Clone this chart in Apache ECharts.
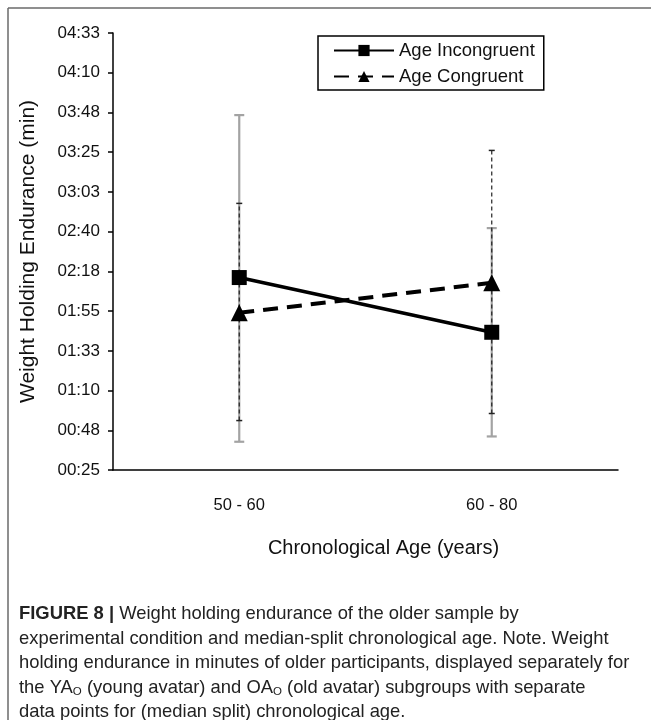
<!DOCTYPE html>
<html><head><meta charset="utf-8">
<script src="https://cdn.jsdelivr.net/npm/echarts@6/dist/echarts.min.js"></script>
<style>html,body{margin:0;padding:0;background:#fff}#c{width:651px;height:720px}</style>
</head><body><div id="c"></div>
<script>
// ---- data (values in seconds) ----
const categories = ['50 - 60', '60 - 80'];
const seriesNames = ['Age Incongruent', 'Age Congruent'];
const incongruentMean = [134, 103];
const congruentMean = [114, 131];
const incongruentLow = [41, 44];
const incongruentHigh = [226, 162];
const congruentLow = [53, 57];
const congruentHigh = [176, 206];
const yMin = 25, yStep = 22.5, yMax = 272.5;

function fmt(v) {
  const s = Math.round(v);
  const m = Math.floor(s / 60), r = s % 60;
  return String(m).padStart(2, '0') + ':' + String(r).padStart(2, '0');
}

function errorBar(lineStyle, capStyle, capHalf) {
  return function (params, api) {
    const x = api.value(0);
    const lo = api.coord([x, api.value(1)]);
    const hi = api.coord([x, api.value(2)]);
    return { type: 'group', children: [
      { type: 'line', shape: { x1: lo[0], y1: lo[1], x2: hi[0], y2: hi[1] }, style: lineStyle },
      { type: 'line', shape: { x1: hi[0] - capHalf, y1: hi[1], x2: hi[0] + capHalf, y2: hi[1] }, style: capStyle },
      { type: 'line', shape: { x1: lo[0] - capHalf, y1: lo[1], x2: lo[0] + capHalf, y2: lo[1] }, style: capStyle }
    ]};
  };
}

const chart = echarts.init(document.getElementById('c'), null, { renderer: 'canvas' });
const FONT = 'Liberation Sans, Arial, Helvetica, sans-serif';
chart.setOption({
  animation: false,
  backgroundColor: '#fff',
  textStyle: { fontFamily: FONT },
  grid: { left: 113, top: 33, right: 33, bottom: 250, containLabel: false },
  legend: {
    orient: 'vertical', left: 318, top: 36, padding: [5, 9, 4, 15], itemGap: 7,
    itemWidth: 60, itemHeight: 14,
    borderColor: '#000', borderWidth: 1.5,
    data: seriesNames,
    textStyle: { fontSize: 18.5, color: '#111', fontFamily: FONT }
  },
  xAxis: [
    {
      type: 'category', data: categories, boundaryGap: true,
      axisLine: { lineStyle: { color: '#000', width: 1.5 } },
      axisTick: { alignWithLabel: false, length: 6, lineStyle: { color: '#000', width: 1.5 } },
      axisLabel: { fontSize: 16.5, color: '#111', margin: 27 },
      name: 'Chronological Age (years)', nameLocation: 'middle', nameGap: 68,
      nameTextStyle: { fontSize: 20, color: '#111', padding: [0, 0, 0, 36] }
    },
    {
      type: 'category', data: categories, boundaryGap: true, position: 'bottom',
      axisLine: { show: false },
      axisTick: { alignWithLabel: true, length: 6, lineStyle: { color: '#000', width: 1.5 } },
      axisLabel: { show: false }
    }
  ],
  yAxis: {
    type: 'value', min: yMin, max: yMax, interval: yStep,
    splitLine: { show: false },
    axisLine: { show: true, lineStyle: { color: '#000', width: 1.5 } },
    axisTick: { show: true, length: 5, lineStyle: { color: '#000', width: 1.5 } },
    axisLabel: { fontSize: 17, color: '#111', margin: 13, formatter: fmt },
    name: 'Weight Holding Endurance (min)', nameLocation: 'middle', nameGap: 74,
    nameTextStyle: { fontSize: 21, color: '#111' }
  },
  series: [
    {
      name: 'Incongruent SD', type: 'custom', z: 1, silent: true,
      renderItem: errorBar({ stroke: '#a3a3a3', lineWidth: 2.2 }, { stroke: '#a3a3a3', lineWidth: 2.2 }, 5),
      data: categories.map((c, i) => [i, incongruentLow[i], incongruentHigh[i]])
    },
    {
      name: 'Congruent SD', type: 'custom', z: 2, silent: true,
      renderItem: errorBar({ stroke: '#222', lineWidth: 1.2, lineDash: [4, 3] }, { stroke: '#222', lineWidth: 1.5 }, 3),
      data: categories.map((c, i) => [i, congruentLow[i], congruentHigh[i]])
    },
    {
      name: seriesNames[0], type: 'line', z: 5, data: incongruentMean,
      symbol: 'rect', symbolSize: 15,
      itemStyle: { color: '#000' },
      lineStyle: { color: '#000', width: 3.5 }
    },
    {
      name: seriesNames[1], type: 'line', z: 6, data: congruentMean,
      symbol: 'triangle', symbolSize: 17,
      itemStyle: { color: '#000' },
      lineStyle: { color: '#000', width: 4, type: [15, 9] }
    }
  ],
  graphic: [
    { type: 'line', shape: { x1: 8, y1: 8, x2: 651, y2: 8 }, style: { stroke: '#6a6a6a', lineWidth: 1.5 } },
    { type: 'line', shape: { x1: 8, y1: 8, x2: 8, y2: 720 }, style: { stroke: '#6a6a6a', lineWidth: 1.5 } },
    {
      type: 'text', left: 19, top: 602,
      style: {
        text: '{b|FIGURE 8 |} Weight holding endurance of the older sample by\n' +
              'experimental condition and median-split chronological age. Note. Weight\n' +
              'holding endurance in minutes of older participants, displayed separately for\n' +
              'the YA{s|O} (young avatar) and OA{s|O} (old avatar) subgroups with separate\n' +
              'data points for (median split) chronological age.',
        font: '18.4px ' + FONT, fill: '#222', lineHeight: 24.5,
        rich: {
          b: { fontWeight: 'bold', fontSize: 18.4, fill: '#222', lineHeight: 24.5 },
          s: { fontSize: 11.5, fill: '#222', lineHeight: 24.5, padding: [9, 0, 0, 0] }
        }
      }
    }
  ]
});
</script></body></html>
